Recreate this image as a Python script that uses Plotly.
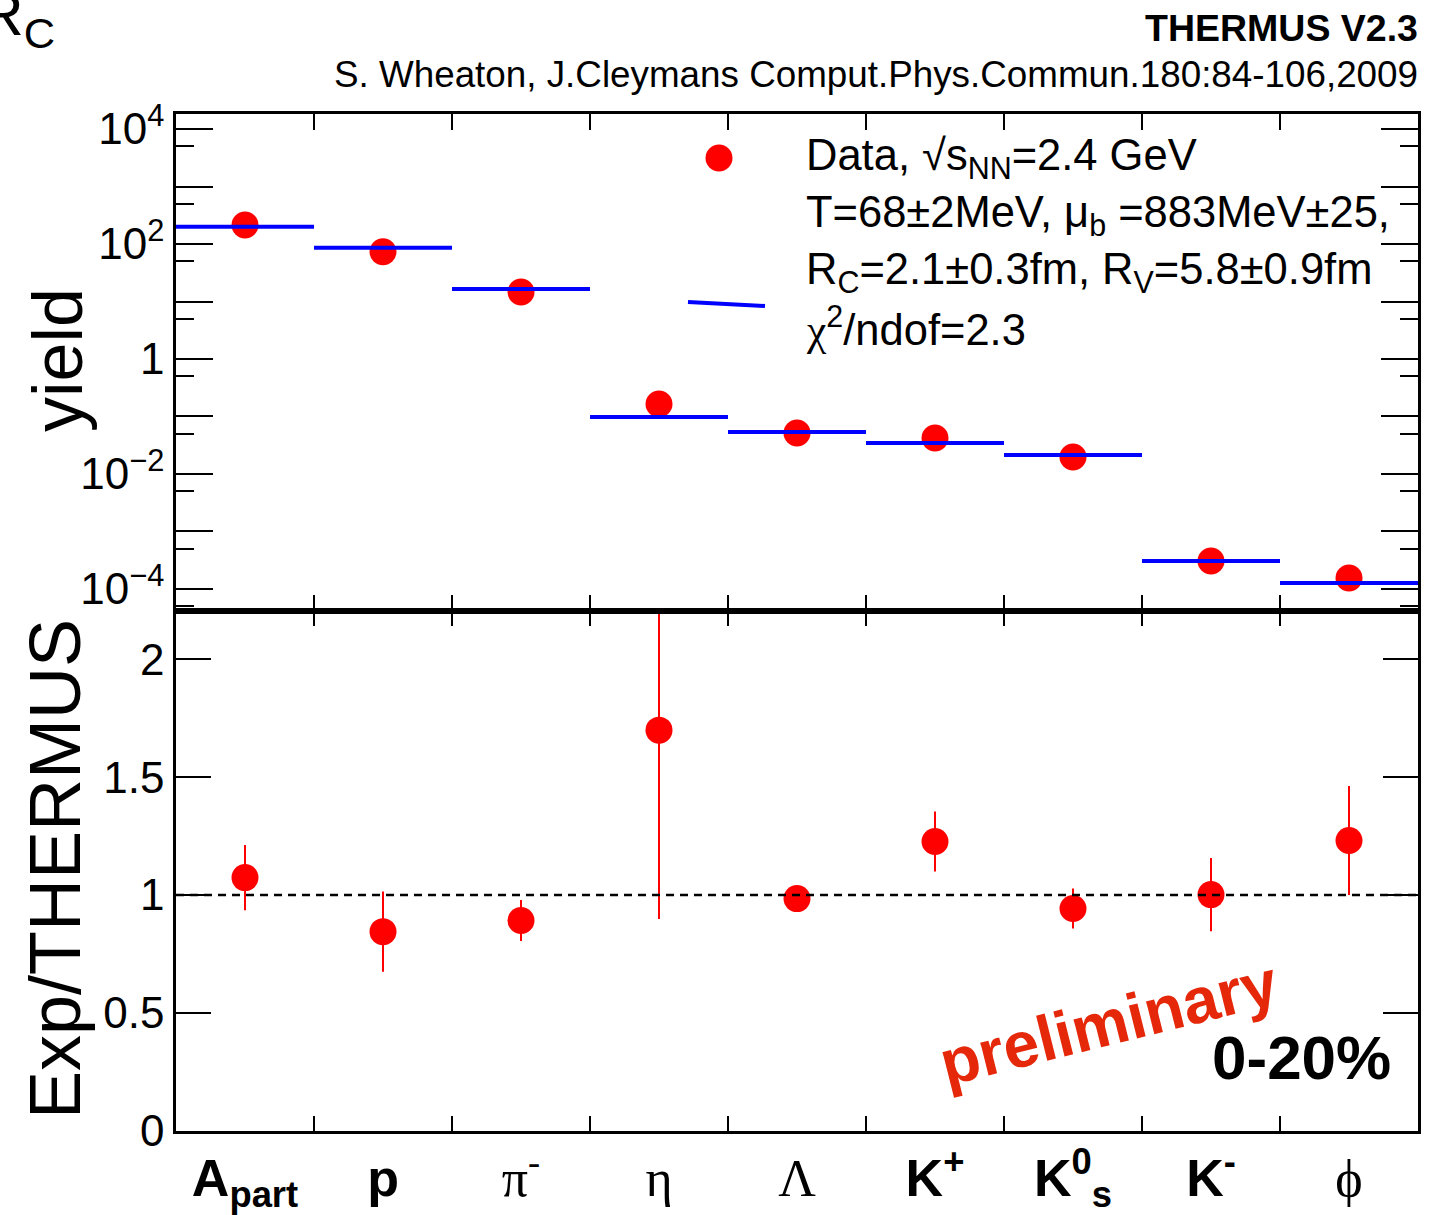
import plotly.graph_objects as go

# ---------------- data ----------------
categories = ["Apart", "p", "pi-", "eta", "Lambda", "K+", "K0s", "K-", "phi"]
tick_labels = [
    "<b>A<sub>part</sub></b>",
    "<b>p</b>",
    "<span style='font-family:Liberation Serif'>π<sup>-</sup></span>",
    "<span style='font-family:Liberation Serif'>η</span>",
    "<span style='font-family:Liberation Serif'>Λ</span>",
    "<b>K<sup>+</sup></b>",
    "<b>K<sup>0</sup><sub>s</sub></b>",
    "<b>K<sup>-</sup></b>",
    "<span style='font-family:Liberation Serif'>ϕ</span>",
]
data_yield = [214, 73.5, 14.6, 0.165, 0.0516, 0.0423, 0.0198, 3.07e-4, 1.55e-4]
model_yield = [200, 86.2, 16.5, 0.098, 0.0537, 0.0346, 0.0214, 3.07e-4, 1.27e-4]
ratio = [1.074, 0.845, 0.892, 1.699, 0.985, 1.227, 0.943, 1.002, 1.231]
ratio_err = [0.138, 0.170, 0.087, 0.80, 0.02, 0.127, 0.085, 0.155, 0.231]

decades = list(range(-4, 5))
decade_labels = ["10<sup>−4</sup>", "", "10<sup>−2</sup>", "", "1", "", "10<sup>2</sup>", "", "10<sup>4</sup>"]
ratio_ticks = [0, 0.5, 1, 1.5, 2]
ratio_ticklabels = ["0", "0.5", "1", "1.5", "2"]

# ---------------- geometry helpers ----------------
W, H = 1446, 1215
L, R, T, B = 176, 28, 114, 84
PW, PH = W - L - R, H - T - B
split = (1131 - 611) / PH


def px(x):
    return (x - L) / PW


def py(y):
    return (H - B - y) / PH


idx = list(range(len(categories)))
edges = [i - 0.5 for i in range(len(categories) + 1)]

seg_x, seg_y = [], []
for i, v in zip(idx, model_yield):
    seg_x += [i - 0.5, i + 0.5, None]
    seg_y += [v, v, None]

FONT = "Liberation Sans, Arial, Helvetica, sans-serif"

fig = go.Figure()
fig.add_trace(go.Scatter(
    x=idx, y=data_yield, mode="markers", xaxis="x2", yaxis="y2",
    marker=dict(color="#ff0000", size=27, line=dict(width=0)), showlegend=False))
fig.add_trace(go.Scatter(
    x=seg_x, y=seg_y, mode="lines", xaxis="x2", yaxis="y2",
    line=dict(color="#0000ff", width=4), showlegend=False))
fig.add_trace(go.Scatter(
    x=idx, y=ratio, mode="markers", xaxis="x", yaxis="y",
    marker=dict(color="#ff0000", size=27, line=dict(width=0)),
    error_y=dict(type="data", array=ratio_err, color="#ff0000", thickness=2, width=0),
    showlegend=False))

axis_common = dict(showline=True, linewidth=2.5, linecolor="black", mirror="ticks",
                   showgrid=False, zeroline=False, ticks="inside", tickwidth=2,
                   tickcolor="black", automargin=False)

fig.update_layout(
    template="none",
    width=W, height=H, margin=dict(l=L, r=R, t=T, b=B, autoexpand=False),
    paper_bgcolor="white", plot_bgcolor="white",
    font=dict(family=FONT, color="black"),
    xaxis=dict(domain=[0, 1], anchor="y", range=[-0.5, 8.5],
               tickmode="array", tickvals=idx, ticktext=tick_labels, ticklen=0,
               tickfont=dict(size=52, family=FONT),
               minor=dict(tickmode="array", tickvals=edges[1:-1], ticks="inside",
                          ticklen=15, tickwidth=2, tickcolor="black", showgrid=False),
               **axis_common),
    yaxis=dict(domain=[0, split], anchor="x", range=[0, 2.204],
               tickmode="array", tickvals=ratio_ticks, ticktext=ratio_ticklabels,
               ticklen=35, tickfont=dict(size=44, family=FONT), **axis_common),
    xaxis2=dict(domain=[0, 1], anchor="y2", matches="x", range=[-0.5, 8.5],
                tickmode="array", tickvals=edges[1:-1], ticklen=16,
                showticklabels=False, **axis_common),
    yaxis2=dict(domain=[split, 1], anchor="x2", type="log", range=[-4.383, 4.261],
                tickmode="array", tickvals=[10.0 ** k for k in decades],
                ticktext=decade_labels, ticklen=37,
                tickfont=dict(size=44, family=FONT),
                minor=dict(tickmode="array", tickvals=[5 * 10.0 ** k for k in range(-5, 4)],
                           ticks="inside", ticklen=18, tickwidth=2, tickcolor="black",
                           showgrid=False),
                **axis_common),
)

# reference line at ratio 1
fig.add_shape(type="line", xref="x domain", yref="y", x0=0, x1=1, y0=1, y1=1,
              line=dict(color="black", width=2.5, dash="8px,6px"))

# legend symbols
fig.add_shape(type="circle", xref="paper", yref="paper", xsizemode="pixel", ysizemode="pixel",
              xanchor=px(719), yanchor=py(158), x0=-13.5, x1=13.5, y0=-13.5, y1=13.5,
              fillcolor="#ff0000", line=dict(width=0))
fig.add_shape(type="line", xref="paper", yref="paper", x0=px(688), x1=px(765),
              y0=py(302), y1=py(306), line=dict(color="#0000ff", width=4))

ann = []


def add_text(text, x, y, size, xanchor="left", yanchor="middle", angle=0, color="black"):
    ann.append(dict(text=text, x=px(x), y=py(y), xref="paper", yref="paper",
                    xanchor=xanchor, yanchor=yanchor, showarrow=False, textangle=angle,
                    font=dict(size=size, color=color, family=FONT)))


add_text("Data, √s<sub>NN</sub>=2.4 GeV", 804, 158, 43.5)
add_text("T=68±2MeV, μ<sub>b</sub> =883MeV±25,", 804, 215, 43.5)
add_text("R<sub>C</sub>=2.1±0.3fm, R<sub>V</sub>=5.8±0.9fm", 804, 272, 43.5)
add_text("<span style='font-family:Liberation Serif'>χ</span><sup>2</sup>/ndof=2.3", 804, 327, 43.5)

add_text("<b>THERMUS V2.3</b>", 1420, 28, 37.5, xanchor="right")
add_text("S. Wheaton, J.Cleymans Comput.Phys.Commun.180:84-106,2009", 1420, 74, 36.8, xanchor="right")
add_text("R<sub>C</sub>", 57, 18, 62, xanchor="right")

add_text("yield", 58, 360, 70, xanchor="center", angle=-90)
add_text("Exp/THERMUS", 55, 869, 72, xanchor="center", angle=-90)

add_text("<b>preliminary</b>", 1108, 1023, 64, xanchor="center", angle=-14, color="#e5280a")
add_text("<b>0-20%</b>", 1301, 1057, 62, xanchor="center")

fig.update_layout(annotations=ann)

fig.write_html("out.html")
